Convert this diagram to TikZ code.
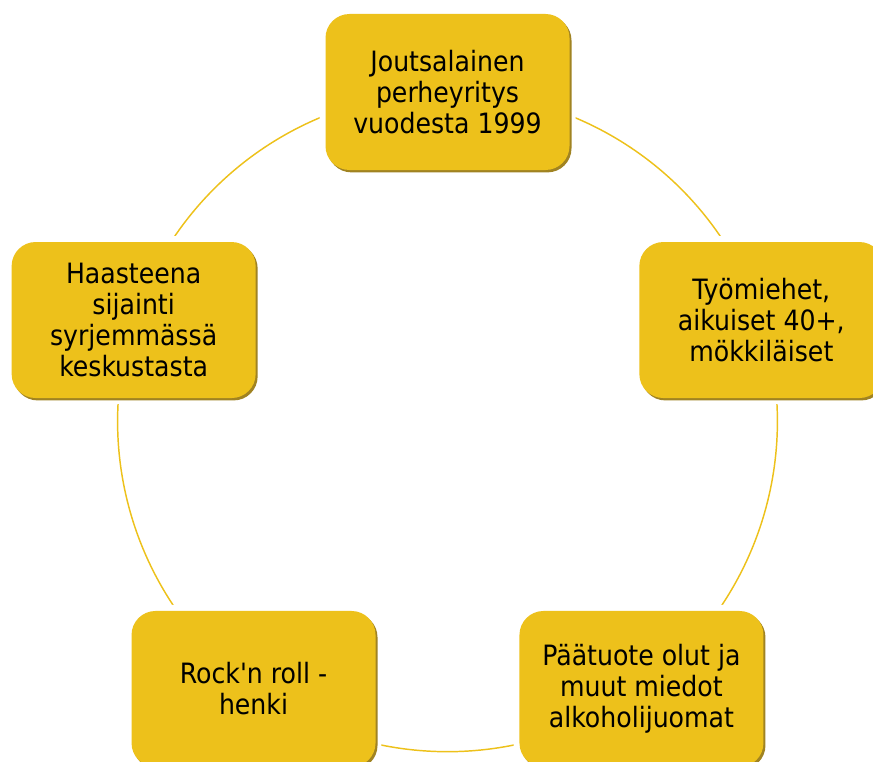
\documentclass[tikz,border=0pt]{standalone}
\usepackage{fontspec}
\setmainfont{DejaVu Sans Condensed}
\usetikzlibrary{shapes,shadows,positioning,backgrounds}
\definecolor{gold}{RGB}{237,193,27}
\definecolor{golddark}{RGB}{150,118,10}

\begin{document}
\begin{tikzpicture}[x=0.75pt,y=0.75pt,
  goldbox/.style={rectangle,rounded corners=18pt,fill=gold,minimum width=183pt,minimum height=117pt,
    align=center,font=\fontsize{21}{23.3}\selectfont,
    preaction={draw=white,line width=9pt},
    drop shadow={shadow xshift=1.5pt,shadow yshift=-1.8pt,fill=golddark,opacity=0.9}},
  ring/.style={draw=gold,line width=1.1pt,bend left=36,looseness=0.94}]

       \useasboundingbox (-447.5,-339) rectangle (425.5,422);

       \node [goldbox]  (perhe)   at (90:330)  {Joutsalainen\\perheyritys\\vuodesta 1999};
       \node [goldbox]  (asiakas) at (18:330)  {Työmiehet,\\aikuiset 40+,\\mökkiläiset};
       \node [goldbox]  (tuote)   at (306:330) {Päätuote olut ja\\muut miedot\\alkoholijuomat};
       \node [goldbox]  (henki)   at (234:330) {Rock\textquotesingle n roll -\\henki};
       \node [goldbox]  (haaste)  at (162:330) {Haasteena\\sijainti\\syrjemmässä\\keskustasta};

       % the ring goes behind the boxes
       \begin{scope}[on background layer]
       \draw [ring] (perhe.center) to (asiakas.center);
       \draw [ring] (asiakas.center) to (tuote.center);
       \draw [ring] (tuote.center) to (henki.center);
       \draw [ring] (henki.center) to (haaste.center);
       \draw [ring] (haaste.center) to (perhe.center);
       \end{scope}
\end{tikzpicture}
\end{document}
